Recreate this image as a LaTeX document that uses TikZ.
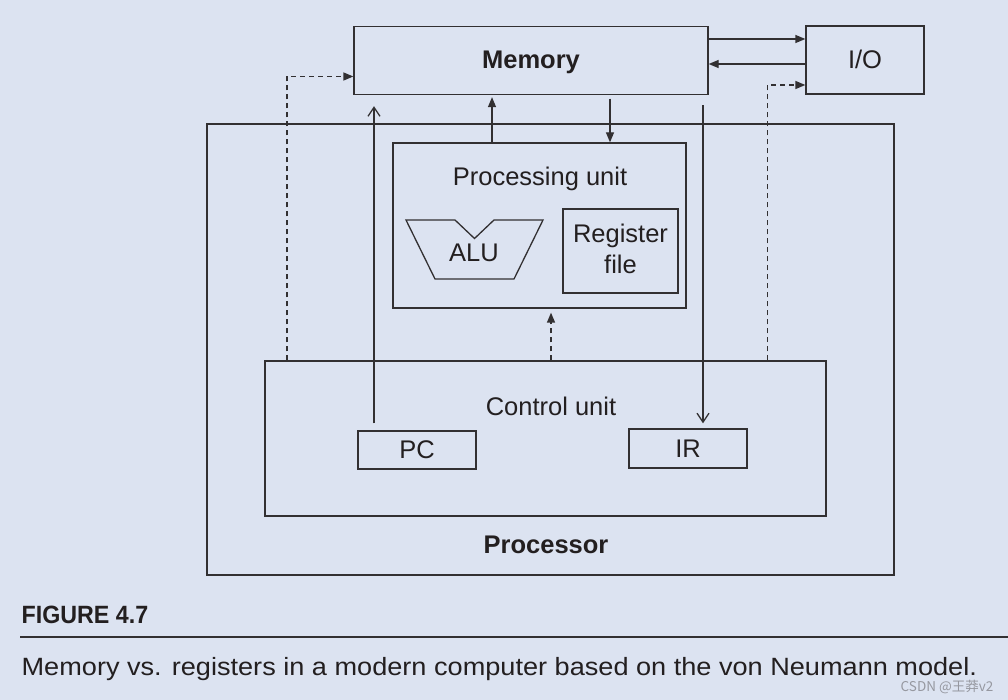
\documentclass[tikz,border=0pt]{standalone}
\usepackage{fontspec}
\setmainfont{Liberation Sans}
\newfontfamily\cjkfont{Noto Sans CJK SC}
\usetikzlibrary{arrows.meta}
\definecolor{bgc}{RGB}{220,227,241}
\definecolor{ln}{RGB}{50,48,50}
\definecolor{tx}{RGB}{35,31,32}
\definecolor{wm}{RGB}{150,152,160}
\begin{document}
\begin{tikzpicture}[x=1pt,y=-1pt,
  line width=1.3pt, draw=ln, text=tx,
  box/.style={draw=ln, rectangle, inner sep=0pt, line width=1.3pt},
  lbl/.style={inner sep=0pt, anchor=base, font=\fontsize{25.5}{28}\selectfont},
  blbl/.style={inner sep=0pt, anchor=base, font=\fontsize{25.5}{28}\selectfont\bfseries},
  fa/.style={-{Triangle[length=10pt,width=8pt]}},
  oa/.style={-{Straight Barb[length=9pt,width=12pt]}},
  dsh/.style={line width=1.4pt, dash pattern=on 5pt off 4pt, -{Triangle[length=10pt,width=8pt]}}
]
\useasboundingbox[fill=bgc] (0,0) rectangle (1008,700);

% boxes
\node[box, minimum width=354pt, minimum height=68pt] (mem) at (531,60.5) {};
\node[blbl] (memt) at (531,68.3) {Memory};
\node[box, minimum width=118pt, minimum height=68pt] (io) at (865,60) {};
\node[lbl] (iot) at (865,68.3) {I/O};
\node[box, minimum width=687pt, minimum height=451pt] (proc) at (550.5,349.5) {};
\node[blbl] (proct) at (546,553) {Processor};
\node[box, minimum width=293pt, minimum height=165pt] (pu) at (539.5,225.5) {};
\node[lbl] (put) at (540,186) {Processing unit};
\node[box, minimum width=115pt, minimum height=84pt] (rf) at (620.5,251) {};
\node[lbl] (rft1) at (620.5,243) {Register};
\node[lbl] (rft2) at (620.5,273) {file};
\node[box, minimum width=561pt, minimum height=155pt] (cu) at (545.5,438.5) {};
\node[lbl] (cut) at (551,415.5) {Control unit};
\node[box, minimum width=118pt, minimum height=38pt] (pc) at (417,450) {};
\node[lbl] (pct) at (417,458.5) {PC};
\node[box, minimum width=118pt, minimum height=39pt] (ir) at (688,448.5) {};
\node[lbl] (irt) at (688,457) {IR};

% ALU
\draw[line width=1.3pt, line join=miter] (406,220) -- (455,220) -- (474.5,238.5) -- (494,220) -- (543,220) -- (514,279) -- (435,279) -- cycle;
\node[lbl] (alu) at (474,262) {ALU};

% memory <-> I/O
\draw[fa] ([yshift=21.5pt]mem.east) -- ([yshift=21pt]io.west);
\draw[fa] ([yshift=-4pt]io.west) -- ([yshift=-3.5pt]mem.east);

% dashed control lines
\draw[dsh] ([xshift=-59pt]cu.north east) |- ([yshift=-25pt]io.west);
\draw[dsh] ([xshift=22.5pt]cu.north west) |- ([yshift=-16pt]mem.west);
\draw[dsh, shorten >=4pt] ([xshift=5.5pt]cu.north) -- ([xshift=11.5pt]pu.south);

% PC -> memory
\draw[oa, shorten <=7pt, shorten >=11pt] ([xshift=-43pt]pc.north) -- ([xshift=-157pt]mem.south);
% PU <-> memory
\draw[fa, shorten >=2pt] ([xshift=-47.5pt]pu.north) -- ([xshift=-39pt]mem.south);
\draw[fa, shorten <=3.5pt] ([xshift=79pt]mem.south) -- ([xshift=70.5pt]pu.north);
% memory -> IR
\draw[oa, shorten <=10pt, shorten >=5pt] ([xshift=172pt]mem.south) -- ([xshift=15pt]ir.north);

% caption
\node[anchor=base west, inner sep=0pt, font=\fontsize{25}{28}\selectfont\bfseries] (fig) at (21,623) {\scalebox{0.93}[1]{FIGURE 4.7}};
\coordinate (rl) at (20,637);
\coordinate (rr) at (1008,637);
\draw[line width=1.4pt] (rl) -- (rr);
\node[anchor=base west, inner sep=0pt, font=\fontsize{25}{28}\selectfont] (cap) at (21,675) {\scalebox{1.085}[1]{Memory vs. registers in a modern computer based on the von Neumann model.}};
\node[anchor=base east, inner sep=0pt, text=wm, font=\cjkfont\fontsize{13.5}{15}\selectfont] (wmk) at (994,691) {CSDN @王莽v2};
\end{tikzpicture}
\end{document}
